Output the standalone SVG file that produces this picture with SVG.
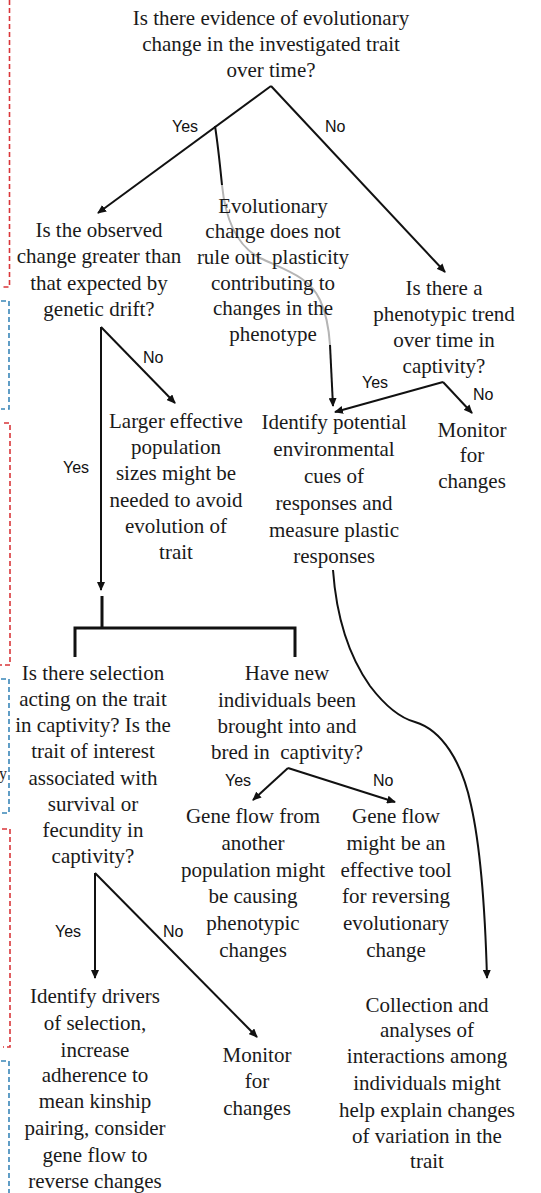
<svg xmlns="http://www.w3.org/2000/svg" width="541" height="1193" viewBox="0 0 541 1193">
<style>
  .t { font-family: "Liberation Serif", "Times New Roman", serif; font-size: 21px; fill: #1a1a1a; text-anchor: middle; }
  .l { font-family: "Liberation Sans", Arial, sans-serif; font-size: 16px; fill: #111; }
  .c { fill: none; stroke: #111; stroke-width: 2; }
  .g { fill: none; stroke: #b5b5b5; stroke-width: 2; }
  .bar { fill: none; stroke: #111; stroke-width: 3; }
  .red { fill: none; stroke: #d9363a; stroke-width: 1.6; stroke-dasharray: 5 3; }
  .blue { fill: none; stroke: #3a86b8; stroke-width: 1.6; stroke-dasharray: 5 3; }
</style>
<defs>
  <marker id="ah" markerUnits="userSpaceOnUse" markerWidth="9" markerHeight="8" refX="8" refY="4" orient="auto">
    <path d="M0,0 L9,4 L0,8 z" fill="#111"/>
  </marker>
</defs>
<rect width="541" height="1193" fill="#fff"/>

<g id="brackets">
  <path class="red" d="M9.5,0 V287 H2"/>
  <path class="blue" d="M1,301 H9 V409 H1"/>
  <path class="red" d="M4,423 H10 V665 H0"/>
  <path class="blue" d="M1,679 H9 V813 H0"/>
  <path class="red" d="M2,829 H10 V1047 H3"/>
  <path class="blue" d="M1,1061 H9 V1193"/>
  <text class="t" x="3" y="779" style="font-size:16px" text-anchor="end">y</text>
</g>

<g id="connectors">
  <line class="c" x1="271" y1="86" x2="98" y2="213" marker-end="url(#ah)"/>
  <line class="c" x1="271" y1="86" x2="445" y2="272" marker-end="url(#ah)"/>
  <path class="c" d="M215,126 C218,145 220,165 222,185"/>
  <path class="g" d="M222,185 C225,215 235,245 260,258 C290,272 310,278 320,300 C327,315 329,330 330,345"/>
  <path class="c" d="M330,345 C331,365 332,385 333,406" marker-end="url(#ah)"/>
  <line class="c" x1="101" y1="327" x2="101" y2="590" marker-end="url(#ah)"/>
  <line class="c" x1="101" y1="327" x2="175" y2="403" marker-end="url(#ah)"/>
  <line class="c" x1="443" y1="382" x2="335" y2="412" marker-end="url(#ah)"/>
  <line class="c" x1="443" y1="382" x2="472" y2="413" marker-end="url(#ah)"/>
  <path class="bar" d="M102,596 V628 M75,657 V628 H295 V657"/>
  <line class="c" x1="288" y1="768" x2="253" y2="800" marker-end="url(#ah)"/>
  <line class="c" x1="288" y1="768" x2="395" y2="802" marker-end="url(#ah)"/>
  <line class="c" x1="95" y1="873" x2="95" y2="978" marker-end="url(#ah)"/>
  <line class="c" x1="95" y1="873" x2="257" y2="1037" marker-end="url(#ah)"/>
  <path class="c" d="M333,570 C336,612 346,652 370,686 C386,707 400,718 415,722 C442,730 462,762 471,805 C480,845 485,905 487,978" marker-end="url(#ah)"/>
</g>

<g id="labels">
  <text class="l" x="172" y="132">Yes</text>
  <text class="l" x="325" y="132">No</text>
  <text class="l" x="143" y="363">No</text>
  <text class="l" x="63" y="473">Yes</text>
  <text class="l" x="362" y="388">Yes</text>
  <text class="l" x="473" y="400">No</text>
  <text class="l" x="225" y="786">Yes</text>
  <text class="l" x="373" y="786">No</text>
  <text class="l" x="55" y="937">Yes</text>
  <text class="l" x="163" y="937">No</text>
</g>

<g id="n-evidence">
  <text class="t" x="271" y="25">Is there evidence of evolutionary</text>
  <text class="t" x="271" y="51">change in the investigated trait</text>
  <text class="t" x="271" y="77">over time?</text>
</g>
<g id="n-drift">
  <text class="t" x="99" y="237">Is the observed</text>
  <text class="t" x="99" y="263">change greater than</text>
  <text class="t" x="99" y="290">that expected by</text>
  <text class="t" x="99" y="316">genetic drift?</text>
</g>
<g id="n-plasticity">
  <text class="t" x="273" y="213">Evolutionary</text>
  <text class="t" x="273" y="238">change does not</text>
  <text class="t" x="273" y="264">rule out&#160; plasticity</text>
  <text class="t" x="273" y="290">contributing to</text>
  <text class="t" x="273" y="315">changes in the</text>
  <text class="t" x="273" y="341">phenotype</text>
</g>
<g id="n-trend">
  <text class="t" x="444" y="295">Is there a</text>
  <text class="t" x="444" y="321">phenotypic trend</text>
  <text class="t" x="444" y="347">over time in</text>
  <text class="t" x="444" y="373">captivity?</text>
</g>
<g id="n-larger">
  <text class="t" x="176" y="428">Larger effective</text>
  <text class="t" x="176" y="454">population</text>
  <text class="t" x="176" y="480">sizes might be</text>
  <text class="t" x="176" y="507">needed to avoid</text>
  <text class="t" x="176" y="533">evolution of</text>
  <text class="t" x="176" y="559">trait</text>
</g>
<g id="n-identify-cues">
  <text class="t" x="334" y="429">Identify potential</text>
  <text class="t" x="334" y="456">environmental</text>
  <text class="t" x="334" y="483">cues of</text>
  <text class="t" x="334" y="510">responses and</text>
  <text class="t" x="334" y="537">measure plastic</text>
  <text class="t" x="334" y="563">responses</text>
</g>
<g id="n-monitor1">
  <text class="t" x="472" y="437">Monitor</text>
  <text class="t" x="472" y="462">for</text>
  <text class="t" x="472" y="488">changes</text>
</g>
<g id="n-selection">
  <text class="t" x="93" y="680">Is there selection</text>
  <text class="t" x="93" y="706">acting on the trait</text>
  <text class="t" x="93" y="732">in captivity? Is the</text>
  <text class="t" x="93" y="758">trait of interest</text>
  <text class="t" x="93" y="785">associated with</text>
  <text class="t" x="93" y="811">survival or</text>
  <text class="t" x="93" y="837">fecundity in</text>
  <text class="t" x="93" y="863">captivity?</text>
</g>
<g id="n-newind">
  <text class="t" x="287" y="680">Have new</text>
  <text class="t" x="287" y="707">individuals been</text>
  <text class="t" x="287" y="733">brought into and</text>
  <text class="t" x="287" y="759">bred in&#160; captivity?</text>
</g>
<g id="n-geneflow-yes">
  <text class="t" x="253" y="823">Gene flow from</text>
  <text class="t" x="253" y="850">another</text>
  <text class="t" x="253" y="877">population might</text>
  <text class="t" x="253" y="903">be causing</text>
  <text class="t" x="253" y="930">phenotypic</text>
  <text class="t" x="253" y="957">changes</text>
</g>
<g id="n-geneflow-no">
  <text class="t" x="396" y="823">Gene flow</text>
  <text class="t" x="396" y="850">might be an</text>
  <text class="t" x="396" y="877">effective tool</text>
  <text class="t" x="396" y="903">for reversing</text>
  <text class="t" x="396" y="930">evolutionary</text>
  <text class="t" x="396" y="957">change</text>
</g>
<g id="n-drivers">
  <text class="t" x="95" y="1003">Identify drivers</text>
  <text class="t" x="95" y="1030">of selection,</text>
  <text class="t" x="95" y="1057">increase</text>
  <text class="t" x="95" y="1082">adherence to</text>
  <text class="t" x="95" y="1108">mean kinship</text>
  <text class="t" x="95" y="1135">pairing, consider</text>
  <text class="t" x="95" y="1162">gene flow to</text>
  <text class="t" x="95" y="1188">reverse changes</text>
</g>
<g id="n-monitor2">
  <text class="t" x="257" y="1062">Monitor</text>
  <text class="t" x="257" y="1088">for</text>
  <text class="t" x="257" y="1115">changes</text>
</g>
<g id="n-collection">
  <text class="t" x="427" y="1012">Collection and</text>
  <text class="t" x="427" y="1037">analyses of</text>
  <text class="t" x="427" y="1063">interactions among</text>
  <text class="t" x="427" y="1090">individuals might</text>
  <text class="t" x="427" y="1117">help explain changes</text>
  <text class="t" x="427" y="1143">of variation in the</text>
  <text class="t" x="427" y="1168">trait</text>
</g>
</svg>
